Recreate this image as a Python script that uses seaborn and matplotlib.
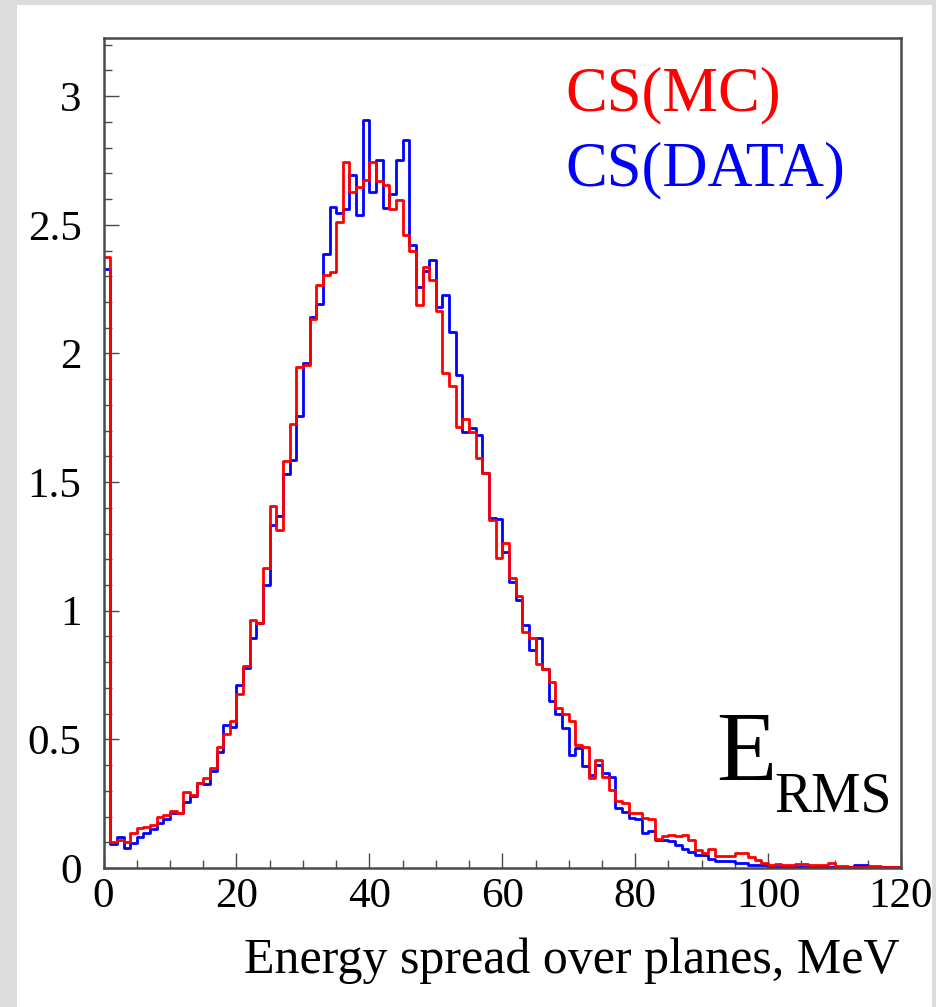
import numpy as np
import pandas as pd
import matplotlib
matplotlib.use("Agg")
import matplotlib.pyplot as plt
from matplotlib.patches import Rectangle
from matplotlib.ticker import MultipleLocator
import seaborn as sns

# ---- data: 1 MeV bins from 0 to 120 ----
bin_edges = list(range(0, 121))
mc_values = [
    2.375, 0.100, 0.109, 0.102, 0.135, 0.157, 0.161, 0.167, 0.197, 0.206,
    0.223, 0.212, 0.297, 0.284, 0.332, 0.351, 0.390, 0.472, 0.519, 0.571,
    0.677, 0.785, 0.964, 0.953, 1.167, 1.407, 1.315, 1.580, 1.725, 1.946,
    1.955, 2.133, 2.266, 2.304, 2.317, 2.510, 2.745, 2.628, 2.645, 2.674,
    2.745, 2.670, 2.654, 2.560, 2.596, 2.460, 2.400, 2.190, 2.334, 2.285,
    2.165, 1.925, 1.873, 1.715, 1.747, 1.693, 1.595, 1.534, 1.352, 1.203,
    1.264, 1.129, 1.056, 0.918, 0.895, 0.791, 0.772, 0.724, 0.623, 0.600,
    0.572, 0.478, 0.471, 0.351, 0.420, 0.355, 0.303, 0.262, 0.254, 0.212,
    0.215, 0.193, 0.190, 0.113, 0.125, 0.127, 0.123, 0.127, 0.110, 0.070,
    0.060, 0.075, 0.045, 0.045, 0.045, 0.060, 0.058, 0.044, 0.031, 0.018,
    0.012, 0.015, 0.012, 0.012, 0.016, 0.015, 0.012, 0.012, 0.012, 0.018,
    0.008, 0.006, 0.005, 0.005, 0.005, 0.006, 0.009, 0.005, 0.004, 0.003,
]
data_values = [
    2.330, 0.093, 0.122, 0.076, 0.098, 0.122, 0.137, 0.150, 0.176, 0.189,
    0.212, 0.212, 0.258, 0.281, 0.332, 0.325, 0.377, 0.452, 0.556, 0.549,
    0.713, 0.776, 0.895, 0.953, 1.100, 1.333, 1.368, 1.531, 1.585, 1.755,
    1.964, 2.143, 2.192, 2.386, 2.570, 2.544, 2.560, 2.693, 2.537, 2.907,
    2.628, 2.751, 2.565, 2.620, 2.750, 2.830, 2.420, 2.260, 2.322, 2.365,
    2.180, 2.227, 2.084, 1.916, 1.696, 1.709, 1.683, 1.534, 1.361, 1.355,
    1.229, 1.113, 1.040, 0.944, 0.847, 0.895, 0.772, 0.650, 0.597, 0.543,
    0.439, 0.468, 0.396, 0.361, 0.400, 0.368, 0.355, 0.232, 0.219, 0.193,
    0.189, 0.135, 0.142, 0.110, 0.110, 0.105, 0.090, 0.075, 0.061, 0.050,
    0.050, 0.035, 0.026, 0.026, 0.026, 0.018, 0.018, 0.012, 0.012, 0.012,
    0.005, 0.005, 0.005, 0.005, 0.005, 0.005, 0.005, 0.005, 0.005, 0.005,
    0.005, 0.005, 0.005, 0.010, 0.010, 0.004, 0.004, 0.004, 0.004, 0.004,
]
x_ticks = [0, 20, 40, 60, 80, 100, 120]
y_ticks = [0, 0.5, 1, 1.5, 2, 2.5, 3]
y_tick_labels = ["0", "0.5", "1", "1.5", "2", "2.5", "3"]
legend_labels = ["CS(MC)", "CS(DATA)"]
x_label = "Energy spread over planes, MeV"

edges = np.array(bin_edges, dtype=float)
centers = (edges[:-1] + edges[1:]) / 2
df_data = pd.DataFrame({"energy": centers, "weight": data_values})
df_mc = pd.DataFrame({"energy": centers, "weight": mc_values})

sns.set_theme(style="white")
plt.rcParams["font.family"] = ["Liberation Serif", "DejaVu Serif"]

W, H = 937, 1007
fig = plt.figure(figsize=(W / 100, H / 100), dpi=100)
fig.patch.set_facecolor("#dcdcdc")
fig.add_artist(Rectangle((17 / W, 0), (932 - 17) / W, (1007 - 5) / H,
                         transform=fig.transFigure, facecolor="white",
                         edgecolor="none", zorder=0))

x0, x1, y0, y1 = 103.6, 901, 868, 38
ax = fig.add_axes([x0 / W, (H - y0) / H, (x1 - x0) / W, (y0 - y1) / H])
ax.set_facecolor("white")

nb = len(centers)
rng = (float(edges[0]), float(edges[-1]))
sns.histplot(data=df_data, x="energy", weights="weight",
             bins=nb, binrange=rng, element="step", fill=False,
             color="#0000ff", linewidth=2.0, ax=ax)
sns.histplot(data=df_mc, x="energy", weights="weight",
             bins=nb, binrange=rng, element="step", fill=False,
             color="#ff0000", linewidth=2.0, ax=ax)

ax.set_xlim(0, 120)
ax.set_ylim(0, 3.226)
ax.set_ylabel("")
ax.set_xticks(x_ticks)
ax.set_xticklabels([str(t) for t in x_ticks])
ax.set_yticks(y_ticks)
ax.set_yticklabels(y_tick_labels)
ax.xaxis.set_minor_locator(MultipleLocator(5))
ax.yaxis.set_minor_locator(MultipleLocator(0.1))

frame_col = "#4a4a4a"
for s in ax.spines.values():
    s.set_color(frame_col)
    s.set_linewidth(1.8)

ax.tick_params(axis="both", which="both", direction="in", color=frame_col,
               width=1.0, top=False, right=False, left=True, bottom=True,
               labelsize=31, labelcolor="black")
ax.tick_params(axis="both", which="major", length=11)
ax.tick_params(axis="both", which="minor", length=6)
ax.tick_params(axis="x", which="major", pad=7)
ax.tick_params(axis="y", which="major", pad=16)

ax.set_xlabel(x_label, fontsize=36, color="black")
ax.xaxis.label.set_ha("right")
ax.xaxis.label.set_va("baseline")
ax.xaxis.set_label_coords((900 - x0) / (x1 - x0), -(973 - y0) / (y0 - y1))

def ax_xy(px, py):
    return (px - x0) / (x1 - x0), (y0 - py) / (y0 - y1)

ax.text(*ax_xy(565, 110), legend_labels[0], color="#ff0000", fontsize=45,
        transform=ax.transAxes, ha="left", va="baseline")
ax.text(*ax_xy(565, 185), legend_labels[1], color="#0000ff", fontsize=45,
        transform=ax.transAxes, ha="left", va="baseline")

ax.text(*ax_xy(716, 780), "E", fontsize=71,
        color="black", transform=ax.transAxes, ha="left", va="baseline")
ax.text(*ax_xy(774, 812), "RMS", fontsize=40,
        color="black", transform=ax.transAxes, ha="left", va="baseline")

fig.savefig("out.png", dpi=100, facecolor=fig.get_facecolor())
